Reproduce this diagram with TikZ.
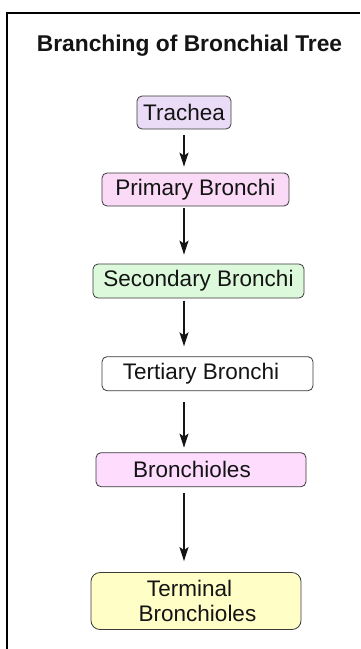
\documentclass[tikz,border=0pt]{standalone}
\usepackage{fontspec}
\setmainfont{Liberation Sans}
\usetikzlibrary{arrows.meta}

\definecolor{boxline}{HTML}{3A3A3A}
\definecolor{txt}{HTML}{141414}
\definecolor{lavender}{HTML}{EADCF7}
\definecolor{pinkA}{HTML}{FADAF6}
\definecolor{mint}{HTML}{DDF9DC}
\definecolor{pinkB}{HTML}{FDDCFD}
\definecolor{paleyellow}{HTML}{FFFEC6}

\tikzset{
  stagebox/.style={draw=boxline, line width=0.8pt, rounded corners=5pt,
    inner sep=0pt, text=txt, font=\fontsize{22.5}{25}\selectfont, align=center},
  flow/.style={draw=txt, line width=1.3pt,
    -{Stealth[length=14pt, width=9pt, inset=3pt]}},
  frameline/.style={line width=2pt, draw=black}
}

\begin{document}
\begin{tikzpicture}[x=1pt, y=-1pt]
  \useasboundingbox (0,0) rectangle (360,649);
  \fill[white] (0,0) rectangle (360,649);

  % outer frame (open on the right and bottom)
  \draw[frameline] (7,649) -- (7,13) -- (360,13);

  % title
  \node[font=\fontsize{22.8}{25}\selectfont\bfseries, text=txt] (title) at (189.5,46)
    {Branching of Bronchial Tree};

  % stages of the tree
  \node[stagebox, fill=lavender, minimum width=94pt, minimum height=33pt]
    (trachea) at (184,112.5) {Trachea};
  \node[stagebox, fill=pinkA, minimum width=187pt, minimum height=33pt]
    (primary) at (195.5,189.5) {Primary Bronchi};
  \node[stagebox, fill=mint, minimum width=211pt, minimum height=34pt]
    (secondary) at (198.5,281) {Secondary Bronchi};
  \node[stagebox, fill=white, minimum width=211pt, minimum height=34pt]
    (tertiary) at (207.5,373.7) {Tertiary Bronchi\hspace*{13pt}};
  \node[stagebox, fill=pinkB, minimum width=210pt, minimum height=34pt]
    (bronchioles) at (201,469.7) {Bronchioles\hspace*{18pt}};
  \node[stagebox, fill=paleyellow, minimum width=210pt, minimum height=57pt,
    rounded corners=9pt]
    (terminal) at (196,601) {Terminal\hspace*{13pt}\\\hspace*{3pt}Bronchioles};

  % vertical axis of the connectors
  \coordinate (axis) at (184,0);

  \draw[flow, shorten <=6pt, shorten >=6pt]
    (trachea.south -| axis) -- (primary.north -| axis);
  \draw[flow, shorten <=2pt, shorten >=9pt]
    (primary.south -| axis) -- (secondary.north -| axis);
  \draw[flow, shorten <=2.3pt, shorten >=10pt]
    (secondary.south -| axis) -- (tertiary.north -| axis);
  \draw[flow, shorten <=11pt, shorten >=4.7pt]
    (tertiary.south -| axis) -- (bronchioles.north -| axis);
  \draw[flow, shorten <=6.3pt, shorten >=11pt]
    (bronchioles.south -| axis) -- (terminal.north -| axis);
\end{tikzpicture}
\end{document}
